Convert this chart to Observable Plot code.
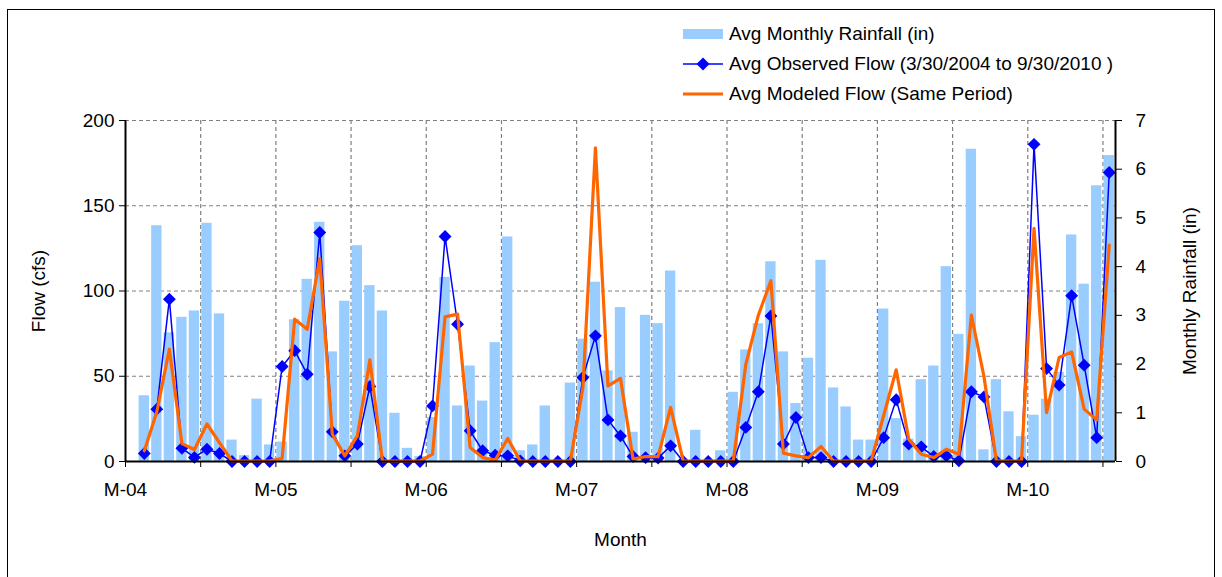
<!DOCTYPE html>
<html>
<head>
<meta charset="utf-8">
<script src="https://cdn.jsdelivr.net/npm/d3@7"></script>
<script src="https://cdn.jsdelivr.net/npm/@observablehq/plot@0.6"></script>
<style>
  body { margin: 0; background: #fff; }
  #wrap { position: relative; width: 1222px; height: 577px; overflow: hidden; background: #fff;
          font-family: "Liberation Sans", Arial, sans-serif; }
  #chart { position: absolute; left: 0; top: 0; }
  #frame { position: absolute; left: 7px; top: 9px; width: 1206px; height: 620px; border: 1.5px solid #000; }
  #legend { position: absolute; left: 683px; top: 19px; font-size: 19px; color: #000; }
  .row { display: flex; align-items: center; height: 30px; white-space: pre; }
  .row svg { flex: none; }
</style>
</head>
<body>
<div id="wrap"><div id="chart"></div><div id="frame"></div><div id="legend"></div></div>
<script>
// Months: Apr 2004 .. Sep 2010 (index 0 = Apr 2004), axis starts Mar 2004
const rainfall = [
  1.35, 4.84, 2.64, 2.96, 3.09, 4.89, 3.03, 0.44, 0.12, 1.28, 0.34, 0.40,
  2.91, 3.74, 4.91, 2.25, 3.29, 4.43, 3.61, 3.09, 0.99, 0.27, 0.10, 0.90,
  3.78, 1.14, 1.96, 1.24, 2.44, 4.61, 0.22, 0.34, 1.14, 0.00, 1.61, 2.51,
  3.68, 1.86, 3.16, 0.60, 3.00, 2.83, 3.91, 0.00, 0.64, 0.00, 0.22, 1.42,
  2.29, 2.83, 4.10, 2.25, 1.19, 2.12, 4.13, 1.51, 1.12, 0.44, 0.44, 3.13,
  0.88, 0.46, 1.68, 1.96, 4.00, 2.61, 6.41, 0.24, 1.68, 1.02, 0.51, 0.95,
  1.28, 1.83, 4.65, 3.64, 5.66, 6.28
];
const observedFlow = [
  4.7, 30.7, 95.2, 7.8, 2.4, 7.2, 4.7, 0, 0, 0, 0, 55.7,
  65, 51.2, 134.3, 17.4, 3.3, 10.2, 44, 0, 0, 0, 0, 32.6,
  132, 80.5, 18, 6.3, 3.7, 3.3, 0.4, 0, 0, 0, 0, 49.3,
  73.7, 24.4, 15, 2.9, 2.3, 2, 9.2, 0, 0, 0, 0, 0,
  20, 40.9, 85.4, 10.2, 25.8, 2.3, 2.3, 0, 0, 0, 0, 14,
  36.2, 10.2, 8.6, 2.9, 3.3, 0.4, 40.9, 37.9, 0, 0, 0, 186,
  54.5, 44.8, 97.2, 56.5, 14, 169.5
];
const modeledFlow = [
  6.3, 29, 65.9, 10.5, 7, 22, 11, 0.3, 0.3, 0.3, 0.3, 1.8,
  83.5, 77.6, 119, 16, 3.3, 15, 59.6, 0.3, 0.3, 0.3, 0.3, 4.3,
  84.8, 86.4, 8.2, 2.3, 0.8, 13.5, 0.3, 0.3, 0.3, 0.3, 0.3, 43.4,
  184, 44.4, 48.7, 1.4, 2.9, 2.9, 31.7, 0.3, 0.3, 0.3, 0.3, 0.3,
  57, 85.8, 106, 4.9, 3.3, 2.3, 8.8, 0.3, 0.3, 0.3, 0.3, 27,
  53.8, 13.1, 4.3, 2.3, 7.2, 4.3, 85.8, 50, 0.3, 0.3, 0.3, 136.7,
  28.7, 61, 64.3, 30.7, 24.4, 126.9
];
const xTickLabels = ["M-04", "M-05", "M-06", "M-07", "M-08", "M-09", "M-10"];
const flowTicks = [0, 50, 100, 150, 200];
const rainTicks = [0, 1, 2, 3, 4, 5, 6, 7];
const seriesNames = [
  "Avg Monthly Rainfall (in)",
  "Avg Observed Flow (3/30/2004 to 9/30/2010 )",
  "Avg Modeled Flow (Same Period)"
];

const FLOW_MAX = 200, RAIN_MAX = 7;
const toFlow = r => r * FLOW_MAX / RAIN_MAX;
const nMonthsAxis = 79; // Mar 2004 .. Oct 2010
const tickMonths = d3.range(0, nMonthsAxis, 6);
const gridMonths = tickMonths.filter(m => m > 0);

const data = rainfall.map((r, i) => ({i, rain: r, obs: observedFlow[i], mod: modeledFlow[i]}));

const grid = {stroke: "#808080", strokeOpacity: 1, strokeWidth: 1.2, strokeDasharray: "4,3"};

const chart = Plot.plot({
  width: 1222,
  height: 577,
  marginLeft: 125,
  marginRight: 107,
  marginTop: 120,
  marginBottom: 116,
  style: {fontFamily: "'Liberation Sans', Arial, sans-serif", fontSize: "19px", color: "#000", background: "transparent", overflow: "visible"},
  x: {domain: [0, nMonthsAxis], axis: null},
  y: {domain: [0, FLOW_MAX], axis: null},
  marks: [
    Plot.gridY(flowTicks.filter(t => t > 0), grid),
    Plot.gridX(gridMonths, grid),
    Plot.rectY(data, {x1: d => d.i + 1, x2: d => d.i + 2, y: d => toFlow(d.rain), fill: "#99ccff", insetLeft: 1.1, insetRight: 1.1}),
    Plot.line(data, {x: d => d.i + 1.5, y: "obs", stroke: "#0000ff", strokeWidth: 1.5}),
    Plot.dot(data, {x: d => d.i + 1.5, y: "obs", symbol: "diamond2", r: 5.8, fill: "#0000ff", stroke: "none"}),
    Plot.line(data, {x: d => d.i + 1.5, y: "mod", stroke: "#ff6600", strokeWidth: 3.2}),
    Plot.ruleY([0], {stroke: "#000", strokeWidth: 2}),
    Plot.ruleX([0, nMonthsAxis], {stroke: "#000", strokeWidth: 2}),
    Plot.axisY(flowTicks, {anchor: "left", tickSize: 6, tickPadding: 5, label: "Flow (cfs)", labelAnchor: "center", labelOffset: 94, labelArrow: "none", fontSize: 19}),
    Plot.axisY(rainTicks, {anchor: "right", y: d => toFlow(d), tickFormat: d => String(d), tickSize: 6, tickPadding: 14, label: "Monthly Rainfall (in)", labelAnchor: "center", labelOffset: 80, labelArrow: "none", fontSize: 19}),
    Plot.axisX(tickMonths, {anchor: "bottom", tickSize: 6, tickPadding: 15, tickFormat: d => d % 12 === 0 ? xTickLabels[d / 12] : "", label: "Month", labelAnchor: "center", labelOffset: 84, labelArrow: "none", fontSize: 19})
  ]
});
document.getElementById("chart").appendChild(chart);

// Legend
const legend = document.getElementById("legend");
const swatches = [
  `<svg width="46" height="30"><rect x="0" y="10" width="40" height="10" fill="#99ccff"/></svg>`,
  `<svg width="46" height="30"><line x1="0" y1="15" x2="40" y2="15" stroke="#0000ff" stroke-width="1.5"/><path d="M20,8.5L26.5,15L20,21.5L13.5,15Z" fill="#0000ff"/></svg>`,
  `<svg width="46" height="30"><line x1="0" y1="15" x2="40" y2="15" stroke="#ff6600" stroke-width="3.2"/></svg>`
];
seriesNames.forEach((name, k) => {
  const row = document.createElement("div");
  row.className = "row";
  row.innerHTML = swatches[k];
  const span = document.createElement("span");
  span.textContent = name;
  row.appendChild(span);
  legend.appendChild(row);
});
</script>
</body>
</html>
